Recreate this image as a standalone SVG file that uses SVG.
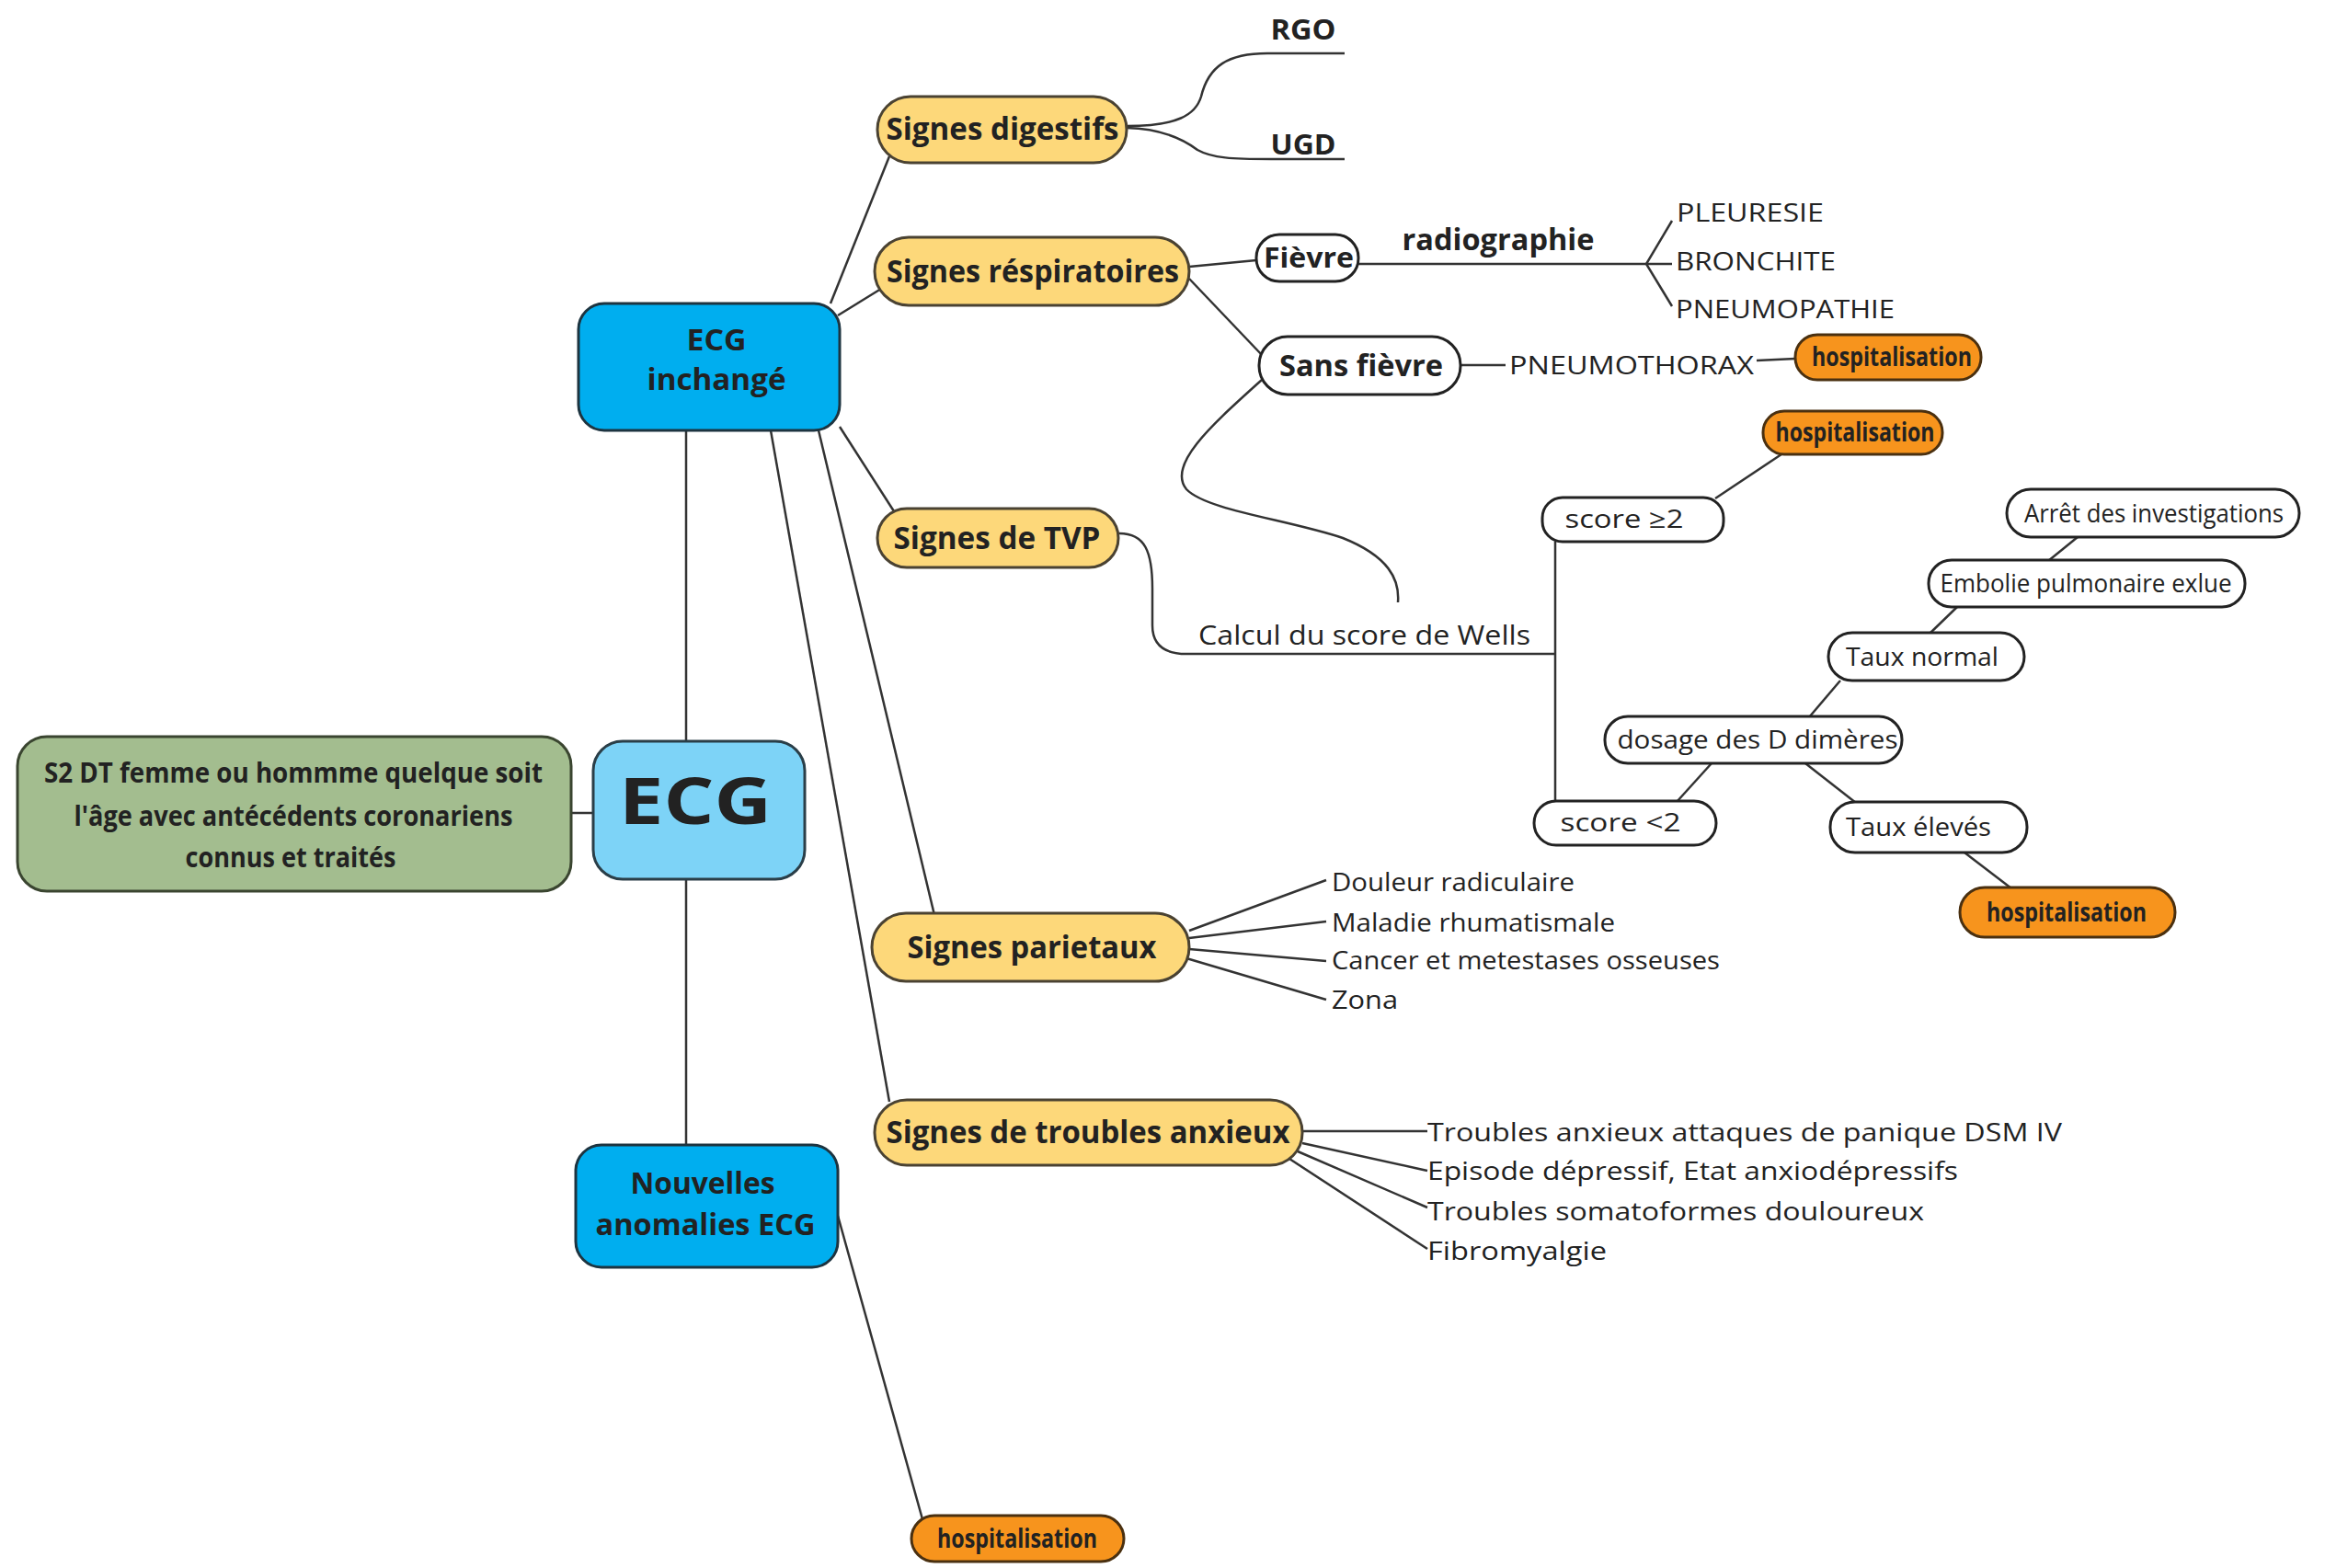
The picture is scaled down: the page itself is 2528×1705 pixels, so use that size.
<svg xmlns="http://www.w3.org/2000/svg" width="2528" height="1705" viewBox="0 0 2528 1705">
<style>
.ln{fill:none;stroke:#333;stroke-width:2.5}
.y{fill:#fdd87a;stroke:#4a4232;stroke-width:3}
.w{fill:#fff;stroke:#222;stroke-width:3}
.o{fill:#f7941d;stroke:#4a3010;stroke-width:3}
.b{fill:#00aeef;stroke:#1d3440;stroke-width:3}
.lb{fill:#7dd3f7;stroke:#2a3e48;stroke-width:3}
.g{fill:#a3bd8f;stroke:#3a4530;stroke-width:3}
text{font-family:"Open Sans","Liberation Sans",sans-serif;fill:#222}
.tb{font-weight:bold;text-anchor:middle}
.tm{text-anchor:middle}
.ts{text-anchor:start}
</style>
<rect width="2528" height="1705" fill="#fff"/>
<g id="connectors">
<line class="ln" x1="621" y1="884" x2="645" y2="884"/>
<line class="ln" x1="746" y1="468" x2="746" y2="806"/>
<line class="ln" x1="746" y1="956" x2="746" y2="1245"/>
<line class="ln" x1="911" y1="1322" x2="1003" y2="1652"/>
<line class="ln" x1="903" y1="330" x2="967" y2="170"/>
<line class="ln" x1="911" y1="343" x2="958" y2="314"/>
<line class="ln" x1="913" y1="464" x2="972" y2="556"/>
<line class="ln" x1="890" y1="468" x2="1016" y2="995"/>
<line class="ln" x1="838" y1="468" x2="967" y2="1198"/>
<path class="ln" d="M1225,137 C1280,137 1300,125 1306,105 C1314,72 1335,58 1378,58 L1462,58"/>
<path class="ln" d="M1225,139 C1262,140 1285,150 1302,163 C1318,172 1340,173 1382,173 L1462,173"/>
<line class="ln" x1="1293" y1="290" x2="1366" y2="283"/>
<line class="ln" x1="1477" y1="287" x2="1790" y2="287"/>
<polyline class="ln" points="1818,240 1790,287 1818,333"/>
<line class="ln" x1="1790" y1="287" x2="1818" y2="287"/>
<line class="ln" x1="1293" y1="303" x2="1373" y2="387"/>
<line class="ln" x1="1588" y1="397" x2="1637" y2="397"/>
<line class="ln" x1="1910" y1="392" x2="1952" y2="390"/>
<path class="ln" d="M1372,413 C1320,460 1268,505 1290,532 C1312,555 1400,565 1460,585 C1510,605 1522,630 1520,655"/>
<path class="ln" d="M1217,580 C1245,580 1253,600 1253,640 L1253,680 C1253,700 1265,711 1290,711 L1691,711"/>
<line class="ln" x1="1691" y1="589" x2="1691" y2="871"/>
<line class="ln" x1="1865" y1="542" x2="1937" y2="494"/>
<line class="ln" x1="1823" y1="872" x2="1861" y2="830"/>
<line class="ln" x1="1963" y1="830" x2="2018" y2="873"/>
<line class="ln" x1="1967" y1="780" x2="2001" y2="740"/>
<line class="ln" x1="2098" y1="689" x2="2128" y2="660"/>
<line class="ln" x1="2227" y1="610" x2="2259" y2="584"/>
<line class="ln" x1="2136" y1="927" x2="2187" y2="966"/>
<line class="ln" x1="1293" y1="1012" x2="1442" y2="957"/>
<line class="ln" x1="1293" y1="1020" x2="1442" y2="1002"/>
<line class="ln" x1="1293" y1="1032" x2="1442" y2="1045"/>
<line class="ln" x1="1290" y1="1042" x2="1442" y2="1087"/>
<line class="ln" x1="1416" y1="1230" x2="1552" y2="1230"/>
<line class="ln" x1="1416" y1="1243" x2="1552" y2="1273"/>
<line class="ln" x1="1411" y1="1252" x2="1552" y2="1313"/>
<line class="ln" x1="1402" y1="1260" x2="1552" y2="1358"/>
</g>
<g id="n-green"><rect class="g" x="19" y="801" width="602" height="168" rx="32"/>
<text class="tb" x="319" y="851" font-size="31" textLength="542" lengthAdjust="spacingAndGlyphs">S2 DT femme ou hommme quelque soit</text>
<text class="tb" x="319" y="898" font-size="31" textLength="477" lengthAdjust="spacingAndGlyphs">l'âge avec antécédents coronariens</text>
<text class="tb" x="316" y="943" font-size="31" textLength="229" lengthAdjust="spacingAndGlyphs">connus et traités</text></g>
<g id="n-ecg"><rect class="lb" x="645" y="806" width="230" height="150" rx="32"/>
<text class="tb" x="756" y="896" font-size="70" textLength="166" lengthAdjust="spacingAndGlyphs">ECG</text></g>
<g id="n-inchange"><rect class="b" x="629" y="330" width="284" height="138" rx="28"/>
<text class="tb" x="779" y="381" font-size="32" textLength="65" lengthAdjust="spacingAndGlyphs">ECG</text>
<text class="tb" x="779" y="424" font-size="32" textLength="151" lengthAdjust="spacingAndGlyphs">inchangé</text></g>
<g id="n-nouvelles"><rect class="b" x="626" y="1245" width="285" height="133" rx="28"/>
<text class="tb" x="764" y="1298" font-size="32" textLength="157" lengthAdjust="spacingAndGlyphs">Nouvelles</text>
<text class="tb" x="767" y="1343" font-size="32" textLength="239" lengthAdjust="spacingAndGlyphs">anomalies ECG</text></g>
<g id="n-hosp1"><rect class="o" x="991" y="1648" width="231" height="50" rx="25"/>
<text class="tb" x="1106" y="1683" font-size="29" textLength="174" lengthAdjust="spacingAndGlyphs">hospitalisation</text></g>
<g id="n-digestifs"><rect class="y" x="954" y="105" width="271" height="72" rx="36"/>
<text class="tb" x="1090" y="152" font-size="34" textLength="253" lengthAdjust="spacingAndGlyphs">Signes digestifs</text></g>
<g id="n-rgo"><text class="tb" x="1417" y="43" font-size="30" textLength="71" lengthAdjust="spacingAndGlyphs">RGO</text></g>
<g id="n-ugd"><text class="tb" x="1417" y="168" font-size="30" textLength="71" lengthAdjust="spacingAndGlyphs">UGD</text></g>
<g id="n-resp"><rect class="y" x="951" y="258" width="342" height="74" rx="37"/>
<text class="tb" x="1123" y="307" font-size="34" textLength="318" lengthAdjust="spacingAndGlyphs">Signes réspiratoires</text></g>
<g id="n-fievre"><rect class="w" x="1366" y="255" width="111" height="51" rx="25"/>
<text class="tb" x="1423" y="291" font-size="30" textLength="98" lengthAdjust="spacingAndGlyphs">Fièvre</text></g>
<g id="n-radio"><text class="tb" x="1629" y="272" font-size="32" textLength="209" lengthAdjust="spacingAndGlyphs">radiographie</text></g>
<g id="n-pleuresie"><text class="ts" x="1823" y="241" font-size="28" textLength="160" lengthAdjust="spacingAndGlyphs">PLEURESIE</text></g>
<g id="n-bronchite"><text class="ts" x="1822" y="294" font-size="28" textLength="174" lengthAdjust="spacingAndGlyphs">BRONCHITE</text></g>
<g id="n-pneumopathie"><text class="ts" x="1822" y="346" font-size="28" textLength="238" lengthAdjust="spacingAndGlyphs">PNEUMOPATHIE</text></g>
<g id="n-sansfievre"><rect class="w" x="1369" y="366" width="219" height="63" rx="31"/>
<text class="tb" x="1480" y="409" font-size="32" textLength="178" lengthAdjust="spacingAndGlyphs">Sans fièvre</text></g>
<g id="n-pneumothorax"><text class="ts" x="1641" y="407" font-size="28" textLength="266" lengthAdjust="spacingAndGlyphs">PNEUMOTHORAX</text></g>
<g id="n-hosp2"><rect class="o" x="1952" y="364" width="202" height="49" rx="24"/>
<text class="tb" x="2057" y="398" font-size="29" textLength="174" lengthAdjust="spacingAndGlyphs">hospitalisation</text></g>
<g id="n-tvp"><rect class="y" x="954" y="553" width="262" height="64" rx="32"/>
<text class="tb" x="1084" y="597" font-size="34" textLength="225" lengthAdjust="spacingAndGlyphs">Signes de TVP</text></g>
<g id="n-wells"><text class="ts" x="1303" y="701" font-size="29" textLength="361" lengthAdjust="spacingAndGlyphs">Calcul du score de Wells</text></g>
<g id="n-score2"><rect class="w" x="1677" y="541" width="197" height="48" rx="22"/>
<text class="tm" x="1766" y="574" font-size="28" textLength="129" lengthAdjust="spacingAndGlyphs">score ≥2</text></g>
<g id="n-hosp3"><rect class="o" x="1917" y="447" width="195" height="47" rx="23"/>
<text class="tb" x="2017" y="480" font-size="29" textLength="173" lengthAdjust="spacingAndGlyphs">hospitalisation</text></g>
<g id="n-arret"><rect class="w" x="2182" y="532" width="318" height="52" rx="26"/>
<text class="tm" x="2342" y="568" font-size="28" textLength="282" lengthAdjust="spacingAndGlyphs">Arrêt des investigations</text></g>
<g id="n-embolie"><rect class="w" x="2097" y="609" width="344" height="51" rx="25"/>
<text class="tm" x="2268" y="644" font-size="28" textLength="317" lengthAdjust="spacingAndGlyphs">Embolie pulmonaire exlue</text></g>
<g id="n-tauxnormal"><rect class="w" x="1988" y="688" width="213" height="52" rx="26"/>
<text class="tm" x="2090" y="724" font-size="28" textLength="166" lengthAdjust="spacingAndGlyphs">Taux normal</text></g>
<g id="n-dosage"><rect class="w" x="1745" y="779" width="323" height="51" rx="25"/>
<text class="tm" x="1911" y="814" font-size="28" textLength="305" lengthAdjust="spacingAndGlyphs">dosage des D dimères</text></g>
<g id="n-scoreinf2"><rect class="w" x="1668" y="871" width="198" height="48" rx="24"/>
<text class="tm" x="1762" y="904" font-size="28" textLength="131" lengthAdjust="spacingAndGlyphs">score &lt;2</text></g>
<g id="n-tauxeleves"><rect class="w" x="1990" y="872" width="214" height="55" rx="27"/>
<text class="tm" x="2086" y="909" font-size="28" textLength="158" lengthAdjust="spacingAndGlyphs">Taux élevés</text></g>
<g id="n-hosp4"><rect class="o" x="2131" y="965" width="234" height="54" rx="27"/>
<text class="tb" x="2247" y="1002" font-size="29" textLength="174" lengthAdjust="spacingAndGlyphs">hospitalisation</text></g>
<g id="n-parietaux"><rect class="y" x="948" y="993" width="345" height="74" rx="37"/>
<text class="tb" x="1122" y="1042" font-size="34" textLength="271" lengthAdjust="spacingAndGlyphs">Signes parietaux</text></g>
<g id="n-douleur"><text class="ts" x="1448" y="969" font-size="28" textLength="264" lengthAdjust="spacingAndGlyphs">Douleur radiculaire</text></g>
<g id="n-maladie"><text class="ts" x="1448" y="1013" font-size="28" textLength="308" lengthAdjust="spacingAndGlyphs">Maladie rhumatismale</text></g>
<g id="n-cancer"><text class="ts" x="1448" y="1054" font-size="28" textLength="422" lengthAdjust="spacingAndGlyphs">Cancer et metestases osseuses</text></g>
<g id="n-zona"><text class="ts" x="1448" y="1097" font-size="28" textLength="72" lengthAdjust="spacingAndGlyphs">Zona</text></g>
<g id="n-anxieux"><rect class="y" x="951" y="1196" width="465" height="71" rx="35"/>
<text class="tb" x="1183" y="1243" font-size="34" textLength="439" lengthAdjust="spacingAndGlyphs">Signes de troubles anxieux</text></g>
<g id="n-panique"><text class="ts" x="1552" y="1241" font-size="28" textLength="690" lengthAdjust="spacingAndGlyphs">Troubles anxieux attaques de panique DSM IV</text></g>
<g id="n-episode"><text class="ts" x="1552" y="1283" font-size="28" textLength="577" lengthAdjust="spacingAndGlyphs">Episode dépressif, Etat anxiodépressifs</text></g>
<g id="n-somato"><text class="ts" x="1552" y="1327" font-size="28" textLength="540" lengthAdjust="spacingAndGlyphs">Troubles somatoformes douloureux</text></g>
<g id="n-fibro"><text class="ts" x="1552" y="1370" font-size="28" textLength="195" lengthAdjust="spacingAndGlyphs">Fibromyalgie</text></g>
</svg>
